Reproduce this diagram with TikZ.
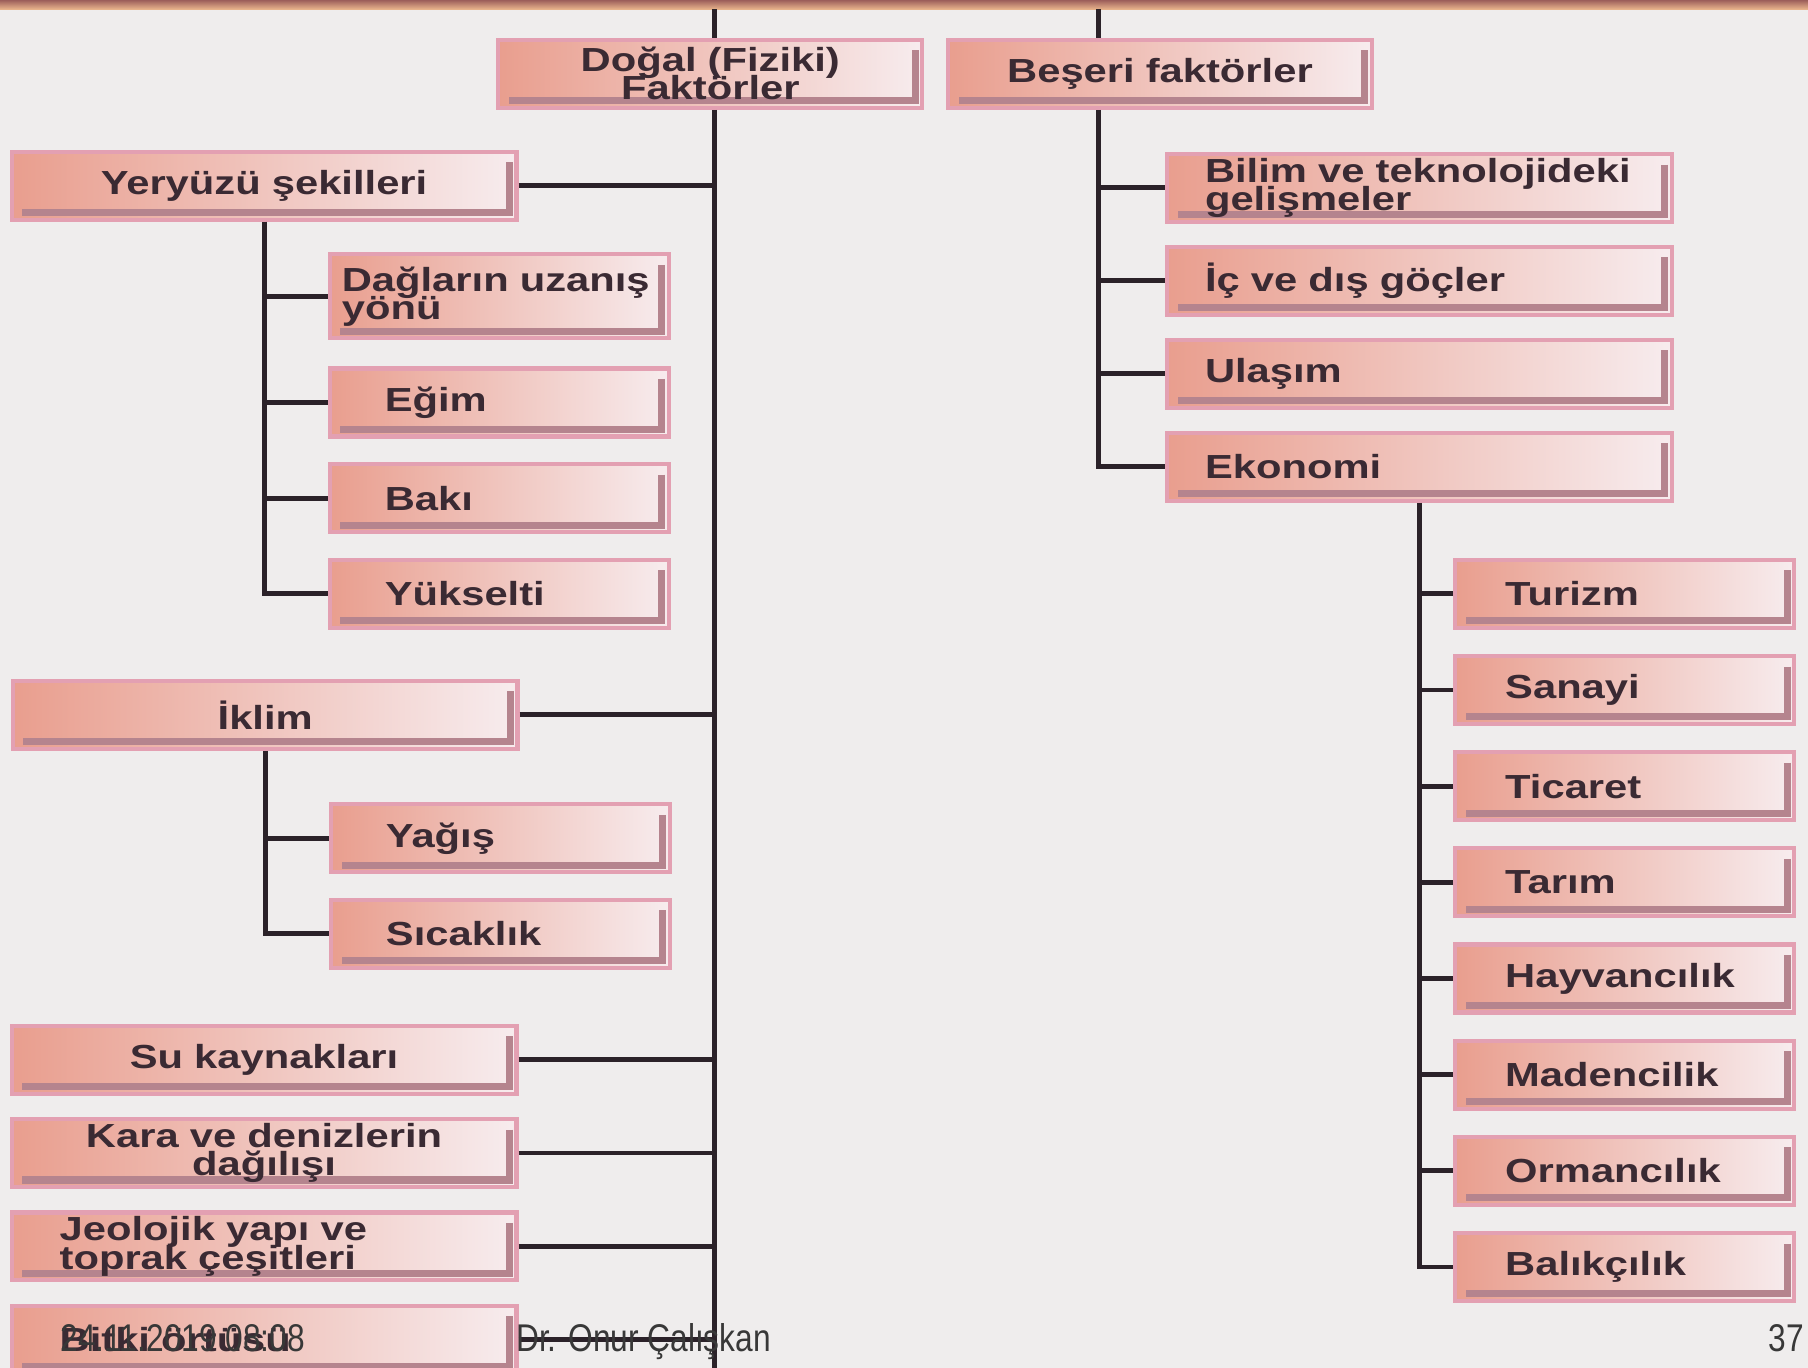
\documentclass[tikz,border=0pt]{standalone}
\usepackage{fontspec}
\setmainfont{Liberation Sans}
\newfontfamily\boxfont{Liberation Sans}[FakeStretch=1.25]
\newfontfamily\footfont{Liberation Sans}[FakeStretch=0.82]
\DeclareRobustCommand\boxtype{\boxfont\bfseries\fontsize{9.5}{8}\selectfont\lineskiplimit=-6pt\relax}
\usetikzlibrary{positioning}

\definecolor{paper}{HTML}{EFEDED}
\definecolor{boxleft}{HTML}{E99E8E}
\definecolor{boxright}{HTML}{F7ECEE}
\definecolor{boxrim}{HTML}{E3A0B2}
\definecolor{boxshade}{HTML}{B5848E}
\definecolor{ink}{HTML}{3A2A33}
\definecolor{wire}{HTML}{2B2229}
\definecolor{bandtop}{HTML}{9C5E5A}
\definecolor{bandbot}{HTML}{E9B48C}
\definecolor{foot}{HTML}{383838}

\tikzset{
  fbox/.style={rectangle, draw=boxrim, line width=1.2pt,
    left color=boxleft, right color=boxright, text=ink,
    font=\boxtype,
    minimum height=0.68cm, inner ysep=1pt,
    path picture={\draw[boxshade, line width=2pt]
      ([shift={(-2pt,-3pt)}]path picture bounding box.north east)
      -- ([shift={(-2pt,2pt)}]path picture bounding box.south east)
      -- ([shift={(3pt,2pt)}]path picture bounding box.south west);}},
  headbox/.style={fbox, text width=3.84cm, inner xsep=0.2cm, align=center},
  bigbox/.style={fbox, text width=4.65cm, inner xsep=0.2cm, align=center},
  bigleft/.style={fbox, text width=4.09cm, inner xsep=0.48cm, align=left},
  subbox/.style={fbox, text width=2.29cm, inner xsep=0.55cm, align=left},
  humbox/.style={fbox, text width=4.29cm, inner xsep=0.38cm, align=left},
  ecobox/.style={fbox, text width=2.39cm, inner xsep=0.5cm, align=left},
  conn/.style={draw=wire, line width=1.4pt},
  foottext/.style={text=foot, inner sep=0pt, font=\footfont\fontsize{11}{13}\selectfont}
}

\begin{document}
\begin{tikzpicture}[x=0.011531cm,y=-0.011531cm,node distance=0.957cm,on grid]
  \useasboundingbox (0,0) rectangle (1568,1186);
  \fill[paper] (0,0) rectangle (1568,1186);
  \shade[top color=bandtop,bottom color=bandbot] (0,0) rectangle (1568,8);

  % heads
  \node[headbox] (dogal) at (616,64) {Doğal (Fiziki)\\Faktörler};
  \node[headbox] (beseri) at (1006,64) {Beşeri faktörler};

  % dogal side
  \node[subbox,inner xsep=0.12cm,text width=3.15cm,minimum height=0.84cm] (daglar) at (433,257) {Dağların uzanış\\yönü};
  \node[bigbox] (yeryuzu) at (229,161) {Yeryüzü şekilleri};
  \node[subbox] (egim) at (433,349) {Eğim};
  \node[subbox] (baki) [below=of egim] {Bakı};
  \node[subbox] (yukselti) [below=of baki] {Yükselti};

  \node[bigbox] (iklim) at (230,620) {İklim};
  \node[subbox] (yagis) at (434,727) {Yağış};
  \node[subbox] (sicaklik) [below=of yagis] {Sıcaklık};

  \node[bigbox] (su) at (229,919) {Su kaynakları};
  \node[bigbox] (kara) [below=0.934cm of su] {Kara ve denizlerin\\dağılışı};
  \node[bigleft] (jeoloji) [below=0.934cm of kara] {Jeolojik yapı ve\\toprak çeşitleri};
  \node[bigleft] (bitki) [below=0.934cm of jeoloji] {Bitki örtüsü};

  % beseri side
  \node[humbox] (bilim) at (1231,163) {Bilim ve teknolojideki\\gelişmeler};
  \node[humbox] (goc) [below=0.93cm of bilim] {İç ve dış göçler};
  \node[humbox] (ulasim) [below=0.93cm of goc] {Ulaşım};
  \node[humbox] (ekonomi) [below=0.93cm of ulasim] {Ekonomi};

  \node[ecobox] (turizm) at (1409,515) {Turizm};
  \node[ecobox] (sanayi) [below=0.962cm of turizm] {Sanayi};
  \node[ecobox] (ticaret) [below=0.962cm of sanayi] {Ticaret};
  \node[ecobox] (tarim) [below=0.962cm of ticaret] {Tarım};
  \node[ecobox] (hayvan) [below=0.962cm of tarim] {Hayvancılık};
  \node[ecobox] (maden) [below=0.962cm of hayvan] {Madencilik};
  \node[ecobox] (orman) [below=0.962cm of maden] {Ormancılık};
  \node[ecobox] (balik) [below=0.962cm of orman] {Balıkçılık};

  % trunks
  \coordinate (ltop) at (620,8);
  \coordinate (rtop) at (953,8);
  \coordinate (lend) at (620,1186);
  \draw[conn] (ltop) -- (ltop |- dogal.north);
  \draw[conn] (rtop) -- (rtop |- beseri.north);
  \draw[conn] (dogal.south -| ltop) -- (lend);
  \draw[conn] (beseri.south -| rtop) |- (ekonomi.west);
  \draw[conn] (yeryuzu.south) |- (yukselti.west);
  \draw[conn] (iklim.south) |- (sicaklik.west);
  \draw[conn] (ekonomi.south) |- (balik.west);

  % branches
  \foreach \n in {yeryuzu,iklim,su,kara,jeoloji,bitki}
    \draw[conn] (\n.east) -- (\n.east -| ltop);
  \foreach \n in {daglar,egim,baki}
    \draw[conn] (\n.west) -- (\n.west -| yeryuzu.south);
  \draw[conn] (yagis.west) -- (yagis.west -| iklim.south);
  \foreach \n in {bilim,goc,ulasim}
    \draw[conn] (\n.west) -- (\n.west -| rtop);
  \foreach \n in {turizm,sanayi,ticaret,tarim,hayvan,maden,orman}
    \draw[conn] (\n.west) -- (\n.west -| ekonomi.south);

  % footer
  \node[foottext,anchor=base west] (tarih) at (52,1172) {24.11.2019 08:08};
  \node[foottext,anchor=base west] (yazar) at (447,1172) {Dr. Onur Çalışkan};
  \node[foottext,anchor=base east] (sayfa) at (1565,1172) {37};
\end{tikzpicture}
\end{document}
